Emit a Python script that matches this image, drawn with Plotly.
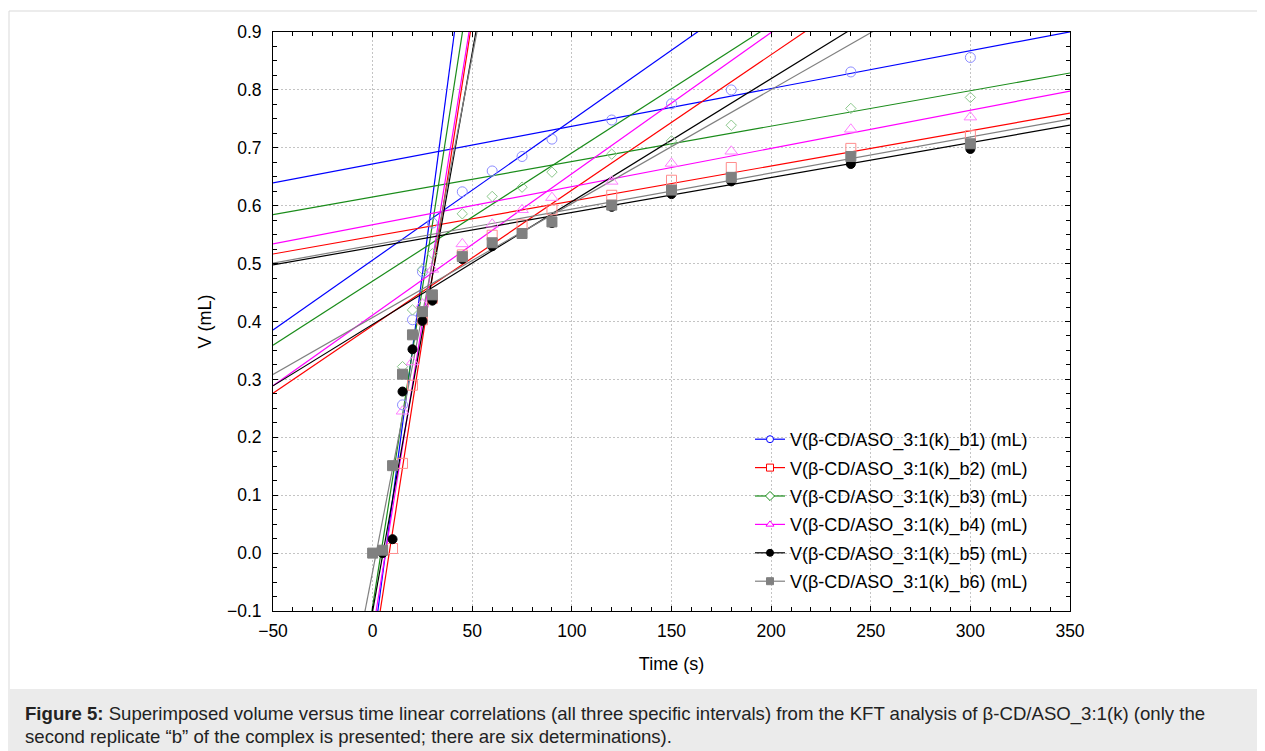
import plotly.graph_objects as go

# ---------------- data ----------------
time_s = [0, 5, 10, 15, 20, 25, 30, 45, 60, 75, 90, 120, 150, 180, 240, 300]

b1 = [None, None, None, 0.256, 0.403, 0.486, 0.570, 0.624, 0.660, 0.685, 0.715, 0.748, 0.776, 0.800, 0.831, 0.856]
b2 = [None, None, 0.008, 0.155, 0.290, 0.403, 0.440, 0.515, 0.549, 0.567, 0.593, 0.618, 0.644, 0.666, 0.699, 0.721]
b3 = [None, None, None, 0.322, 0.420, 0.490, 0.517, 0.586, 0.616, 0.632, 0.658, 0.689, 0.712, 0.739, 0.768, 0.787]
b4 = [None, None, None, 0.245, 0.330, 0.430, 0.490, 0.534, 0.568, 0.593, 0.614, 0.642, 0.673, 0.694, 0.732, 0.753]
b5 = [None, 0.000, 0.024, 0.279, 0.352, 0.401, 0.436, 0.508, 0.530, 0.552, 0.570, 0.598, 0.620, 0.642, 0.672, 0.698]
b6 = [0.000, 0.005, 0.151, 0.309, 0.377, 0.417, 0.446, 0.512, 0.536, 0.552, 0.572, 0.601, 0.627, 0.649, 0.685, 0.707]

# linear fits (slope, intercept) for the three intervals
fit_slope_1 = [0.0260, 0.0221, 0.0220, 0.02145, 0.0193, 0.0178]
fit_icpt_1 = [-0.168, -0.184, -0.092, -0.138, -0.1005, -0.032]
fit_slope_2 = [0.002417, 0.002339, 0.002214, 0.002441, 0.002122, 0.001967]
fit_icpt_2 = [0.506, 0.393, 0.4697, 0.411, 0.395, 0.407]
fit_slope_3 = [0.000652, 0.000608, 0.000612, 0.000660, 0.000603, 0.000622]
fit_icpt_3 = [0.672, 0.547, 0.615, 0.567, 0.528, 0.532]

series_names = [
    "V(β-CD/ASO_3:1(k)_b1) (mL)",
    "V(β-CD/ASO_3:1(k)_b2) (mL)",
    "V(β-CD/ASO_3:1(k)_b3) (mL)",
    "V(β-CD/ASO_3:1(k)_b4) (mL)",
    "V(β-CD/ASO_3:1(k)_b5) (mL)",
    "V(β-CD/ASO_3:1(k)_b6) (mL)",
]
x_range = [-50, 350]
y_range = [-0.1, 0.9]

# ---------------- styles ----------------
line_colors = ["#0000ff", "#ff0000", "#1a8c1a", "#ff00ff", "#000000", "#808080"]
marker_colors = ["#8c8cff", "#ff8c8c", "#8cc88c", "#ff80ff", "#000000", "#808080"]
marker_symbols = ["circle-open", "square-open", "diamond-open", "triangle-up-open", "circle", "square"]
legend_symbols = ["circle", "square", "diamond", "triangle-up", "circle", "square"]
marker_sizes = [10, 10, 8, 11, 9, 10]

FONT = "Liberation Sans, Arial, sans-serif"

fig = go.Figure()
all_series = [b1, b2, b3, b4, b5, b6]
fits = [(fit_slope_1, fit_icpt_1), (fit_slope_2, fit_icpt_2), (fit_slope_3, fit_icpt_3)]

for i, ys in enumerate(all_series):
    for slopes, icpts in fits:
        xs = list(x_range)
        yl = [icpts[i] + slopes[i] * xv for xv in xs]
        fig.add_trace(go.Scatter(x=xs, y=yl, mode="lines", showlegend=False,
                                 line=dict(color=line_colors[i], width=1.2),
                                 hoverinfo="skip"))

for i, ys in enumerate(all_series):
    fig.add_trace(go.Scatter(x=time_s, y=ys, mode="markers", showlegend=False,
                             marker=dict(symbol=marker_symbols[i], size=marker_sizes[i],
                                         color=marker_colors[i],
                                         line=dict(color=marker_colors[i], width=1))))

# legend entries
for i in range(6):
    filled = i >= 4
    fig.add_trace(go.Scatter(x=[None], y=[None], mode="lines+markers", name=series_names[i],
                             legendgroup=f"g{i}",
                             line=dict(color=line_colors[i], width=1.2),
                             marker=dict(symbol=legend_symbols[i], size=7,
                                         color=line_colors[i] if filled else "white",
                                         line=dict(color=line_colors[i], width=1))))

# The page adds an 8px body margin, so the figure is 8px smaller and
# every reference pixel position maps to (p - 8) inside the figure.
FIG_W, FIG_H = 1257, 743
PLOT_L, PLOT_T, PLOT_W, PLOT_H = 273, 32, 797, 579   # reference pixels


def px_x(p):
    return (p - PLOT_L) / PLOT_W


def px_y(p):
    return (PLOT_T + PLOT_H - p) / PLOT_H


shapes = [
    dict(type="rect", xref="paper", yref="paper", x0=px_x(9), x1=px_x(1280), y0=px_y(11), y1=px_y(780),
         line=dict(color="#d9d9d9", width=1), fillcolor="rgba(0,0,0,0)", layer="below"),
    dict(type="rect", xref="paper", yref="paper", x0=px_x(9.5), x1=px_x(1280), y0=px_y(689), y1=px_y(780),
         line=dict(width=0), fillcolor="#ebebeb", layer="below"),
]

CAP = 18.6
annotations = [
    dict(xref="paper", yref="paper", x=px_x(23), y=px_y(714), xanchor="left", yanchor="middle",
         text="<b>Figure 5:</b> Superimposed volume versus time linear correlations (all three specific intervals) from the KFT analysis of β-CD/ASO_3:1(k) (only the",
         showarrow=False, font=dict(family=FONT, size=CAP, color="#222222")),
    dict(xref="paper", yref="paper", x=px_x(23), y=px_y(737), xanchor="left", yanchor="middle",
         text="second replicate “b” of the complex is presented; there are six determinations).",
         showarrow=False, font=dict(family=FONT, size=CAP, color="#222222")),
]

axis_common = dict(
    showline=True, linecolor="black", linewidth=1, mirror="ticks",
    ticks="inside", ticklen=5, tickcolor="black", tickwidth=1,
    showgrid=True, gridcolor="#c4c4c4", griddash="2px,2px", gridwidth=1,
    zeroline=False, tickfont=dict(family=FONT, size=17.5, color="black"),
)

fig.update_layout(
    width=FIG_W, height=FIG_H,
    margin=dict(l=PLOT_L - 8, r=FIG_W - (PLOT_L - 8) - PLOT_W, t=PLOT_T - 8,
                b=FIG_H - (PLOT_T - 8) - PLOT_H),
    paper_bgcolor="white", plot_bgcolor="white",
    font=dict(family=FONT, size=18, color="black"),
    xaxis=dict(range=x_range, dtick=50, tick0=0, ticklabelstandoff=4,
               title=dict(text="Time (s)", font=dict(family=FONT, size=18), standoff=17),
               minor=dict(dtick=10, ticks="inside", ticklen=4, tickcolor="black", showgrid=False),
               **axis_common),
    yaxis=dict(range=y_range, dtick=0.1, tick0=0, tickformat=".1f", ticklabelstandoff=7,
               title=dict(text="V (mL)", font=dict(family=FONT, size=18), standoff=10),
               minor=dict(dtick=0.025, ticks="inside", ticklen=4, tickcolor="black", showgrid=False),
               **axis_common),
    legend=dict(x=px_x(750), y=px_y(421), xanchor="left", yanchor="top",
                bgcolor="rgba(0,0,0,0)", borderwidth=0,
                font=dict(family=FONT, size=18, color="black"),
                tracegroupgap=2),
    shapes=shapes,
    annotations=annotations,
    showlegend=True,
)

fig.write_html("out.html")
